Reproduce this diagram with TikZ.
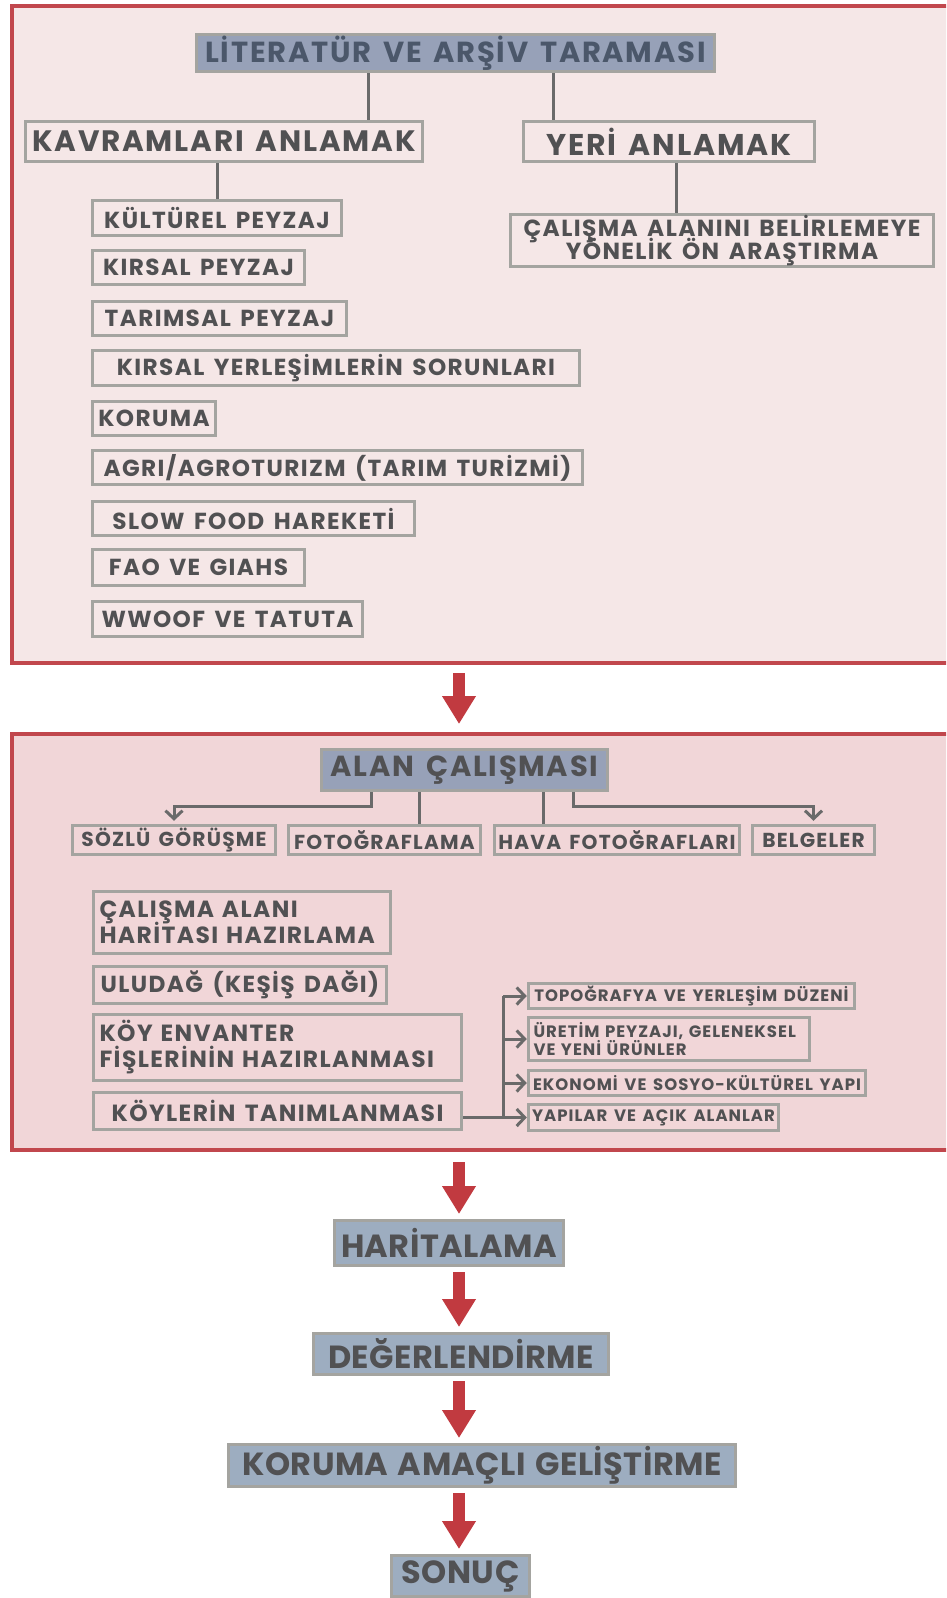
\documentclass[tikz,border=0pt]{standalone}
\usepackage{fontspec}
\usetikzlibrary{arrows.meta}

\IfFontExistsTF{Poppins Bold}
  {\newfontfamily\spfont{Poppins Bold}[LetterSpace=6, WordSpace=1.5]
   \newfontfamily\wdfont{Poppins Bold}[LetterSpace=1.5, WordSpace=1.3]}
  {\newfontfamily\spfont{Poppins SemiBold}[LetterSpace=7, WordSpace=1.5]
   \newfontfamily\wdfont{Poppins SemiBold}[LetterSpace=3, WordSpace=1.3]}
\newcommand{\setpx}[1]{\fontsize{#1}{#1}\selectfont\lineskiplimit=-30pt\relax}
\newcommand{\setlead}[2]{\fontsize{#1}{#2}\selectfont\lineskiplimit=-30pt\relax}

\definecolor{frameRed}{HTML}{C1474D}
\definecolor{arrowRed}{HTML}{C13A40}
\definecolor{paleRose}{HTML}{F5E7E7}
\definecolor{deepRose}{HTML}{F1D6D8}
\definecolor{slateFill}{HTML}{97A1B8}
\definecolor{stageFill}{HTML}{9DADC0}
\definecolor{boxGray}{HTML}{A4A4A0}
\definecolor{lineGray}{HTML}{6A6A6A}
\definecolor{inkGray}{HTML}{515153}
\definecolor{inkSlate}{HTML}{4B576A}

\tikzset{
  frame/.style={draw=frameRed, line width=4, anchor=north west, inner sep=0pt},
  itembox/.style={draw=boxGray, line width=3.5, text=inkGray, inner sep=0pt,
    font=\spfont\setpx{23.2}},
  titlebox/.style={itembox, fill=slateFill},
  stagebox/.style={draw=boxGray, line width=3, fill=stageFill, text=inkGray,
    inner sep=0pt, font=\wdfont\setpx{32}},
  link/.style={draw=lineGray, line width=3},
  linkarrow/.style={link, -{Straight Barb[length=8pt,width=17pt]}},
  bigarrow/.style={draw=arrowRed, line width=12, -{Triangle[width=32pt,length=28pt]}}
}

\begin{document}
\begin{tikzpicture}[x=1pt, y=-1pt]
\useasboundingbox (0,0) rectangle (946,1598);
\clip (0,0) rectangle (946,1598);
\fill[white] (0,0) rectangle (946,1598);

% literature review
\node[frame, fill=paleRose, minimum width=960, minimum height=657] (top) at (10,4) {};
\node[titlebox, text=inkSlate, font=\spfont\setpx{29}, minimum width=518, minimum height=37] (lit) at (455.5,53) {LİTERATÜR VE ARŞİV TARAMASI};
\node[itembox, font=\spfont\setpx{29.5}, minimum width=397, minimum height=40] (kavram) at (224,141.5) {KAVRAMLARI ANLAMAK};
\node[itembox, font=\spfont\setpx{30}, minimum width=291, minimum height=40] (yeri) at (669,141.5) {YERİ ANLAMAK};
\node[itembox, font=\spfont\setlead{23.3}{23}, minimum width=423, minimum height=52, align=center] (calisma) at (722,240.5) {ÇALIŞMA ALANINI BELİRLEMEYE\\YÖNELİK ÖN ARAŞTIRMA};

\node[itembox, minimum width=249, minimum height=35] (kultur) at (217,218) {KÜLTÜREL PEYZAJ};
\node[itembox, minimum width=212, minimum height=34] (kirsal) at (198.5,267.5) {KIRSAL PEYZAJ};
\node[itembox, minimum width=254, minimum height=34] (tarim) at (219.5,318.5) {TARIMSAL PEYZAJ};
\node[itembox, minimum width=487, minimum height=35] (sorun) at (336,368) {KIRSAL YERLEŞİMLERİN SORUNLARI};
\node[itembox, minimum width=123, minimum height=34] (koruma) at (154,418.5) {KORUMA};
\node[itembox, minimum width=490, minimum height=34] (agri) at (337.5,467.5) {AGRI/AGROTURIZM (TARIM TURİZMİ)};
\node[itembox, minimum width=322, minimum height=34] (slow) at (253.5,518.5) {SLOW FOOD HAREKETİ};
\node[itembox, minimum width=212, minimum height=36] (fao) at (198.5,567.5) {FAO VE GIAHS};
\node[itembox, minimum width=270, minimum height=35] (wwoof) at (227.5,619) {WWOOF VE TATUTA};

\coordinate (litL) at (368,0);
\coordinate (litR) at (553,0);
\coordinate (yeriC) at (676,0);
\draw[link] (lit.south -| litL) -- (kavram.north -| litL);
\draw[link] (lit.south -| litR) -- (yeri.north -| litR);
\draw[link] (kavram.south -| kultur) -- (kultur.north);
\draw[link] (yeri.south -| yeriC) -- (calisma.north -| yeriC);

% field work
\node[frame, fill=deepRose, minimum width=960, minimum height=416] (field) at (10,732) {};
\node[titlebox, font=\spfont\setpx{29}, minimum width=286, minimum height=41] (alan) at (464.5,770) {ALAN ÇALIŞMASI};

\node[itembox, font=\spfont\setpx{20.2}, minimum width=203, minimum height=29] (sozlu) at (174,840) {SÖZLÜ GÖRÜŞME};
\node[itembox, font=\spfont\setpx{20.2}, minimum width=192, minimum height=29] (foto) at (384.5,840) {FOTOĞRAFLAMA};
\node[itembox, font=\spfont\setpx{20.2}, minimum width=245, minimum height=29] (hava) at (617,840) {HAVA FOTOĞRAFLARI};
\node[itembox, font=\spfont\setpx{20.2}, minimum width=122, minimum height=29] (belge) at (813.5,840) {BELGELER};

\coordinate (fwL) at (371,806);
\coordinate (fwR) at (573,806);
\coordinate (fotoC) at (419,0);
\coordinate (havaC) at (543,0);
\draw[linkarrow, shorten >=3pt] (alan.south -| fwL) -- (fwL) -| (sozlu.north);
\draw[linkarrow, shorten >=3pt] (alan.south -| fwR) -- (fwR) -| (belge.north);
\draw[link] (alan.south -| fotoC) -- (foto.north -| fotoC);
\draw[link] (alan.south -| havaC) -- (hava.north -| havaC);

\node[itembox, font=\spfont\setlead{23.4}{26}, text width=285, inner xsep=6, align=left, minimum height=62] (harmap) at (242,922.5) {ÇALIŞMA ALANI\\HARİTASI HAZIRLAMA};
\node[itembox, font=\spfont\setpx{23.2}, minimum width=293, minimum height=37] (uludag) at (240,985) {ULUDAĞ (KEŞİŞ DAĞI)};
\node[itembox, font=\spfont\setlead{23.4}{26}, text width=356, inner xsep=6, align=left, minimum height=66] (envanter) at (277.5,1047.5) {KÖY ENVANTER\\FİŞLERİNİN HAZIRLANMASI};
\node[itembox, font=\spfont\setpx{23.4}, minimum width=368, minimum height=37] (koyler) at (277.5,1111) {KÖYLERİN TANIMLANMASI};

\node[itembox, font=\spfont\setpx{16.5}, minimum width=326, minimum height=25] (topo) at (691.5,996) {TOPOĞRAFYA VE YERLEŞİM DÜZENİ};
\node[itembox, font=\spfont\setlead{16.5}{18.5}, text width=271, inner xsep=5, align=left, minimum height=43] (uretim) at (669,1039) {ÜRETİM PEYZAJI, GELENEKSEL\\VE YENİ ÜRÜNLER};
\node[itembox, font=\spfont\setpx{16.5}, minimum width=337, minimum height=25] (ekon) at (697,1083) {EKONOMİ VE SOSYO-KÜLTÜREL YAPI};
\node[itembox, font=\spfont\setpx{16.5}, minimum width=250, minimum height=26] (yapi) at (653.5,1117.5) {YAPILAR VE AÇIK ALANLAR};

\coordinate (bus) at (503,0);
\draw[linkarrow] (koyler.east |- yapi) -- (yapi.west);
\draw[link] (bus |- yapi) -- (bus |- topo);
\draw[linkarrow] (bus |- topo) -- (topo.west);
\draw[linkarrow] (bus |- uretim) -- (uretim.west);
\draw[linkarrow] (bus |- ekon) -- (ekon.west);

% stages
\node[stagebox, minimum width=229, minimum height=45] (harital) at (449,1243) {HARİTALAMA};
\node[stagebox, minimum width=295, minimum height=41] (deger) at (461,1354) {DEĞERLENDİRME};
\node[stagebox, minimum width=507, minimum height=42] (gelis) at (482,1465.5) {KORUMA AMAÇLI GELİŞTİRME};
\node[stagebox, minimum width=138, minimum height=41] (sonuc) at (460.5,1576) {SONUÇ};

\coordinate (spine) at (459,0);
\draw[bigarrow, shorten <=8pt, shorten >=8pt] (top.south -| spine) -- (field.north -| spine);
\draw[bigarrow, shorten <=10pt, shorten >=5pt] (field.south -| spine) -- (harital.north -| spine);
\draw[bigarrow, shorten <=5pt, shorten >=5pt] (harital.south -| spine) -- (deger.north -| spine);
\draw[bigarrow, shorten <=5pt, shorten >=5pt] (deger.south -| spine) -- (gelis.north -| spine);
\draw[bigarrow, shorten <=5pt, shorten >=5pt] (gelis.south -| spine) -- (sonuc.north -| spine);
\end{tikzpicture}
\end{document}
